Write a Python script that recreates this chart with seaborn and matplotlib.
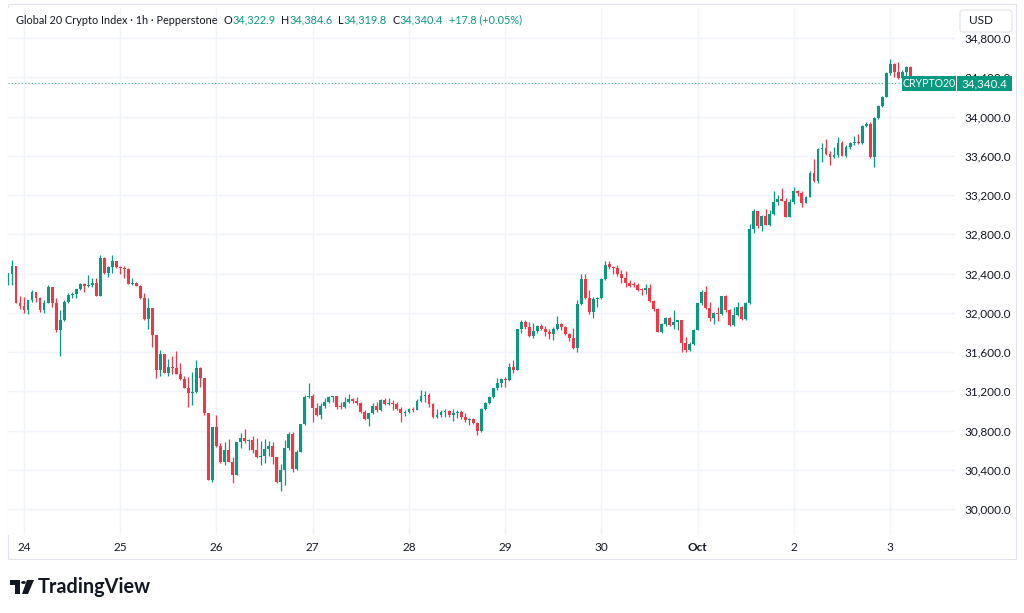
import numpy as np
import pandas as pd
import seaborn as sns
import matplotlib.pyplot as plt
from matplotlib.patches import FancyBboxPatch, Rectangle, Circle, Polygon
from matplotlib.ticker import FuncFormatter

# hourly candles, first one starts 2023-09-23 20:00
start_time = "2023-09-23 20:00"

opens = [
    32286, 32398, 32479, 32102, 32070, 32031, 32133, 32214, 32153, 32031, 32102, 32265,
    32102, 31827, 31929, 32112, 32184, 32194, 32245, 32296, 32276, 32286, 32306, 32174,
    32560, 32408, 32469, 32530, 32469, 32459, 32449, 32296, 32306, 32276, 32153, 31939,
    32052, 31777, 31420, 31583, 31390, 31451, 31441, 31380, 31329, 31237, 31186, 31196,
    31441, 31339, 30983, 30300, 30840, 30647, 30484, 30606, 30484, 30351, 30687, 30728,
    30697, 30708, 30606, 30535, 30545, 30616, 30647, 30535, 30280, 30402, 30626, 30769,
    30413, 30586, 30870, 31145, 31156, 31034, 30962, 31054, 31095, 31145, 31156, 31044,
    31038, 31095, 31125, 31105, 31084, 30993, 30921, 30983, 31054, 31013, 31115, 31074,
    31084, 31074, 31024, 30983, 30993, 31024, 31013, 31105, 31156, 31160, 31074, 30942,
    30962, 30993, 31003, 30962, 30983, 30993, 30942, 30911, 30921, 30881, 30799, 31024,
    31084, 31145, 31237, 31288, 31329, 31318, 31451, 31420, 31838, 31909, 31858, 31767,
    31817, 31868, 31838, 31807, 31787, 31838, 31889, 31858, 31787, 31746, 31644, 32092,
    32347, 32153, 32010, 32143, 32153, 32347, 32500, 32469, 32459, 32398, 32357, 32306,
    32296, 32286, 32235, 32230, 32255, 32123, 32041, 31807, 31889, 31950, 31878, 31909,
    31929, 31695, 31624, 31685, 31827, 32102, 32214, 32052, 31950, 32000, 31990, 32174,
    32031, 31878, 31980, 32062, 31939, 32102, 32852, 33039, 32886, 32988, 32896, 33008,
    33131, 33161, 33141, 32978, 33131, 33243, 33222, 33120, 33182, 33426, 33344, 33670,
    33680, 33619, 33589, 33609, 33731, 33599, 33690, 33731, 33736, 33726, 33904, 33924,
    33589, 33985, 34108, 34199, 34444, 34535, 34454, 34393, 34454, 34505, 34322.9,
]
highs = [
    32408, 32540, 32479, 32174, 32164, 32133, 32235, 32214, 32164, 32133, 32286, 32265,
    32153, 32031, 32133, 32204, 32214, 32245, 32306, 32306, 32387, 32357, 32357, 32591,
    32570, 32479, 32591, 32530, 32479, 32479, 32459, 32357, 32316, 32286, 32204, 32153,
    32052, 31777, 31624, 31583, 31532, 31563, 31614, 31492, 31359, 31349, 31400, 31522,
    31451, 31339, 30983, 30840, 30962, 30677, 30687, 30718, 30535, 30687, 30779, 30820,
    30718, 30749, 30728, 30697, 30718, 30697, 30687, 30535, 30463, 30708, 30789, 30789,
    30606, 30870, 31166, 31288, 31176, 31084, 31084, 31135, 31156, 31156, 31156, 31095,
    31145, 31176, 31135, 31145, 31095, 31013, 30983, 31084, 31095, 31125, 31135, 31135,
    31115, 31095, 31044, 31013, 31034, 31044, 31125, 31217, 31207, 31186, 31084, 31024,
    31013, 31024, 31013, 31024, 31013, 31013, 30983, 30932, 30932, 30891, 31034, 31095,
    31156, 31237, 31339, 31339, 31349, 31492, 31522, 31838, 31929, 31929, 31909, 31899,
    31878, 31889, 31868, 31838, 31858, 31970, 31899, 31868, 31797, 31848, 32133, 32398,
    32398, 32235, 32164, 32164, 32357, 32530, 32530, 32479, 32489, 32438, 32428, 32336,
    32316, 32306, 32255, 32296, 32296, 32133, 32052, 31899, 31960, 31960, 32031, 31929,
    31929, 31756, 31705, 31838, 32102, 32235, 32276, 32112, 32010, 32062, 32174, 32184,
    32041, 32062, 32112, 32072, 32112, 32900, 33059, 33039, 32999, 33059, 33049, 33243,
    33202, 33274, 33171, 33161, 33284, 33253, 33243, 33192, 33446, 33563, 33680, 33731,
    33772, 33650, 33690, 33792, 33751, 33711, 33741, 33802, 33823, 33914, 33945, 33945,
    33996, 34118, 34210, 34454, 34586, 34545, 34555, 34474, 34515, 34515, 34384.6,
]
lows = [
    32286, 32286, 32095, 32041, 32000, 31990, 32112, 32112, 32010, 32000, 32102, 32062,
    31807, 31563, 31919, 32102, 32153, 32153, 32235, 32214, 32266, 32266, 32174, 32174,
    32398, 32367, 32408, 32459, 32398, 32357, 32296, 32286, 32276, 32143, 31929, 31838,
    31654, 31339, 31359, 31390, 31359, 31380, 31380, 31318, 31237, 31044, 31064, 31186,
    31247, 30962, 30300, 30280, 30637, 30474, 30453, 30484, 30270, 30351, 30626, 30677,
    30606, 30575, 30525, 30453, 30474, 30545, 30463, 30270, 30189, 30249, 30606, 30382,
    30402, 30586, 30860, 31135, 30891, 30952, 30921, 31034, 31084, 31095, 31024, 31024,
    31034, 31084, 31084, 31064, 30983, 30911, 30850, 30972, 30993, 31003, 31064, 31064,
    31013, 31013, 30891, 30952, 30983, 30993, 31013, 31095, 31095, 31044, 30932, 30932,
    30942, 30942, 30942, 30901, 30932, 30921, 30891, 30860, 30870, 30758, 30789, 31013,
    31074, 31135, 31217, 31247, 31247, 31308, 31390, 31420, 31797, 31838, 31756, 31746,
    31797, 31827, 31767, 31736, 31726, 31827, 31827, 31777, 31716, 31634, 31603, 32082,
    32143, 31990, 31950, 32062, 32143, 32337, 32449, 32398, 32377, 32306, 32265, 32265,
    32265, 32225, 32184, 32194, 32112, 32021, 31807, 31797, 31868, 31868, 31838, 31827,
    31603, 31603, 31614, 31675, 31827, 32082, 32041, 31919, 31889, 31919, 31980, 32010,
    31868, 31868, 31970, 31929, 31929, 32092, 32815, 32866, 32835, 32896, 32886, 32998,
    33100, 33141, 32978, 32978, 33110, 33192, 33080, 33120, 33182, 33334, 33324, 33538,
    33609, 33507, 33578, 33589, 33599, 33589, 33670, 33711, 33716, 33716, 33894, 33578,
    33487, 33975, 34098, 34199, 34423, 34403, 34383, 34383, 34403, 34300, 34319.8,
]
closes = [
    32408, 32479, 32102, 32070, 32031, 32133, 32214, 32153, 32031, 32102, 32265, 32102,
    31827, 31929, 32112, 32184, 32194, 32245, 32296, 32276, 32286, 32306, 32174, 32560,
    32408, 32469, 32530, 32469, 32459, 32449, 32296, 32306, 32276, 32153, 31939, 32052,
    31777, 31420, 31583, 31390, 31451, 31441, 31380, 31329, 31237, 31186, 31196, 31441,
    31339, 30983, 30300, 30840, 30647, 30484, 30606, 30484, 30351, 30687, 30728, 30697,
    30708, 30606, 30535, 30545, 30616, 30647, 30535, 30280, 30402, 30626, 30769, 30413,
    30586, 30870, 31145, 31156, 31034, 30962, 31054, 31095, 31145, 31156, 31044, 31038,
    31095, 31125, 31105, 31084, 30993, 30921, 30983, 31054, 31013, 31115, 31074, 31084,
    31074, 31024, 30983, 30993, 31024, 31013, 31105, 31156, 31160, 31074, 30942, 30962,
    30993, 31003, 30962, 30983, 30993, 30942, 30911, 30921, 30881, 30799, 31024, 31084,
    31145, 31237, 31288, 31329, 31318, 31451, 31420, 31838, 31909, 31858, 31767, 31817,
    31868, 31838, 31807, 31787, 31838, 31889, 31858, 31787, 31746, 31644, 32092, 32347,
    32153, 32010, 32143, 32153, 32347, 32489, 32469, 32459, 32398, 32357, 32306, 32276,
    32286, 32235, 32230, 32255, 32123, 32041, 31807, 31889, 31950, 31878, 31909, 31929,
    31695, 31624, 31685, 31827, 32102, 32214, 32052, 31950, 32000, 31990, 32174, 32031,
    31878, 31980, 32062, 31939, 32102, 32852, 33039, 32886, 32988, 32896, 33008, 33131,
    33161, 33141, 32978, 33131, 33243, 33222, 33120, 33182, 33426, 33344, 33670, 33680,
    33619, 33589, 33609, 33731, 33599, 33690, 33731, 33736, 33726, 33904, 33924, 33589,
    33985, 34108, 34199, 34444, 34535, 34454, 34393, 34454, 34505, 34323, 34340.4,
]

day_labels = ["24", "25", "26", "27", "28", "29", "30", "Oct", "2", "3"]
price_ticks = [30000, 30400, 30800, 31200, 31600, 32000, 32400, 32800,
               33200, 33600, 34000, 34400, 34800]
last_price = 34340.4
symbol = "CRYPTO20"
header_name = "Global 20 Crypto Index \u00b7 1h \u00b7 Pepperstone"
ohlc_letters = ["O", "H", "L", "C"]
ohlc_values = ["34,322.9", "34,384.6", "34,319.8", "34,340.4"]
change_text = "+17.8 (+0.05%)"

GREEN = "#089981"
RED = "#F23645"
DARK = "#131722"
GRID = "#f0f3fa"

df = pd.DataFrame({
    "time": pd.date_range(start_time, periods=len(closes), freq="h"),
    "open": opens, "high": highs, "low": lows, "close": closes,
})
origin = pd.Timestamp("2023-09-24")
df["pos"] = (df["time"] - origin) / pd.Timedelta(hours=1)
df["up"] = df["close"] >= df["open"]
day_pos = [(d - origin) / pd.Timedelta(hours=1)
           for d in pd.date_range(origin, periods=len(day_labels), freq="D")]

sns.set_theme(style="white")
plt.rcParams["font.family"] = ["Lato", "DejaVu Sans"]


def fx(x):
    return x / 1024


def fy(y):
    return 1 - y / 613


fig = plt.figure(figsize=(10.24, 6.13), dpi=100)
ax = fig.add_axes([fx(8), fy(535), fx(947), 527 / 613])

# outer chart frame
fig.add_artist(FancyBboxPatch((fx(8), fy(559)), fx(1008), 555 / 613,
                              boxstyle="square,pad=0", facecolor="none",
                              edgecolor="#e0e3eb", linewidth=0.8, zorder=0))

ax.set_xlim((8 - 24) / 4.01, (955 - 24) / 4.01)
ax.set_ylim(34800 - (535 - 38) * 10.19, 34800 + (38 - 8) * 10.19)

for p in price_ticks:
    ax.axhline(p, color=GRID, lw=1, zorder=0)
for d in day_pos:
    ax.axvline(d, color=GRID, lw=1, zorder=0)

# candles
colors = np.where(df["up"], GREEN, RED)
ax.vlines(df["pos"], df["low"], df["high"], colors=colors, lw=0.9, zorder=2)
body_lo = np.minimum(df["open"], df["close"])
body_h = np.maximum(np.abs(df["close"] - df["open"]), 8)
ax.bar(df["pos"], body_h, width=0.72, bottom=body_lo, color=colors,
       linewidth=0, zorder=3)

# last price dotted line
last = pd.DataFrame({"x": [ax.get_xlim()[0], ax.get_xlim()[1]],
                     "y": [last_price, last_price]})
sns.lineplot(data=last, x="x", y="y", ax=ax, color=GREEN, lw=0.8, alpha=0.8,
             linestyle=(0, (1, 2)), zorder=1)

for s in ax.spines.values():
    s.set_visible(False)
ax.set_xlabel("")
ax.set_ylabel("")
ax.set_xticks(day_pos)
ax.set_xticklabels(day_labels)
ax.tick_params(axis="x", length=0, pad=5, labelsize=8.5, labelcolor=DARK)
ax.get_xticklabels()[day_labels.index("Oct")].set_fontweight("bold")
ax.yaxis.tick_right()
ax.set_yticks(price_ticks)
ax.yaxis.set_major_formatter(FuncFormatter(lambda v, _: f"{v:,.1f}"))
ax.tick_params(axis="y", length=0, pad=7, labelsize=8.5, labelcolor=DARK)

# header legend
hs = 7.8
prev = ax.annotate(header_name, xy=(fx(16), fy(25.5)), xycoords="figure fraction",
                   va="bottom", ha="left", fontsize=hs, color=DARK,
                   annotation_clip=False)
for i, (letter, val) in enumerate(zip(ohlc_letters, ohlc_values)):
    prev = ax.annotate(letter, xy=(1, 0), xycoords=prev,
                       xytext=(4.5 if i == 0 else 4, 0), textcoords="offset points",
                       va="bottom", ha="left", fontsize=hs, color=DARK,
                       annotation_clip=False)
    prev = ax.annotate(val, xy=(1, 0), xycoords=prev, va="bottom", ha="left",
                       fontsize=hs, color=GREEN, annotation_clip=False)
ax.annotate(change_text, xy=(1, 0), xycoords=prev, xytext=(4.5, 0),
            textcoords="offset points", va="bottom", ha="left", fontsize=hs,
            color=GREEN, annotation_clip=False)

# USD box
fig.add_artist(FancyBboxPatch((fx(960), fy(32)), fx(52), 22 / 613,
                              boxstyle="round,pad=0,rounding_size=0.004",
                              facecolor="white", edgecolor="#e0e3eb", lw=0.8))
fig.text(fx(969), fy(21), "USD", fontsize=8.5, color=DARK, va="center", ha="left")

# last price labels
fig.add_artist(Rectangle((fx(902), fy(91)), fx(54), 15 / 613,
                         facecolor=GREEN, edgecolor="none", zorder=4))
fig.add_artist(Rectangle((fx(957), fy(91)), fx(55), 15 / 613,
                         facecolor=GREEN, edgecolor="none", zorder=4))
fig.text(fx(929), fy(83.5), symbol, fontsize=7.6, color="white",
         va="center", ha="center", zorder=5)
fig.text(fx(984.5), fy(83.5), f"{last_price:,.1f}", fontsize=8.3, color="white",
         va="center", ha="center", zorder=5)

# TradingView logo
fig.add_artist(Rectangle((fx(10), fy(585)), fx(10), 5 / 613, facecolor=DARK, lw=0))
fig.add_artist(Rectangle((fx(15), fy(594)), fx(5), 14 / 613, facecolor=DARK, lw=0))
fig.add_artist(Circle((fx(23.5), fy(582.5)), 2.4 / 1024, facecolor=DARK, lw=0))
fig.add_artist(Polygon([(fx(27), fy(580)), (fx(34), fy(580)),
                        (fx(28), fy(594)), (fx(22), fy(594))],
                       closed=True, facecolor=DARK, lw=0))
fig.text(fx(38), fy(587), "TradingView", fontsize=14.3, fontweight="bold",
         color=DARK, va="center", ha="left")

fig.savefig("out.png", dpi=100, facecolor="white")
